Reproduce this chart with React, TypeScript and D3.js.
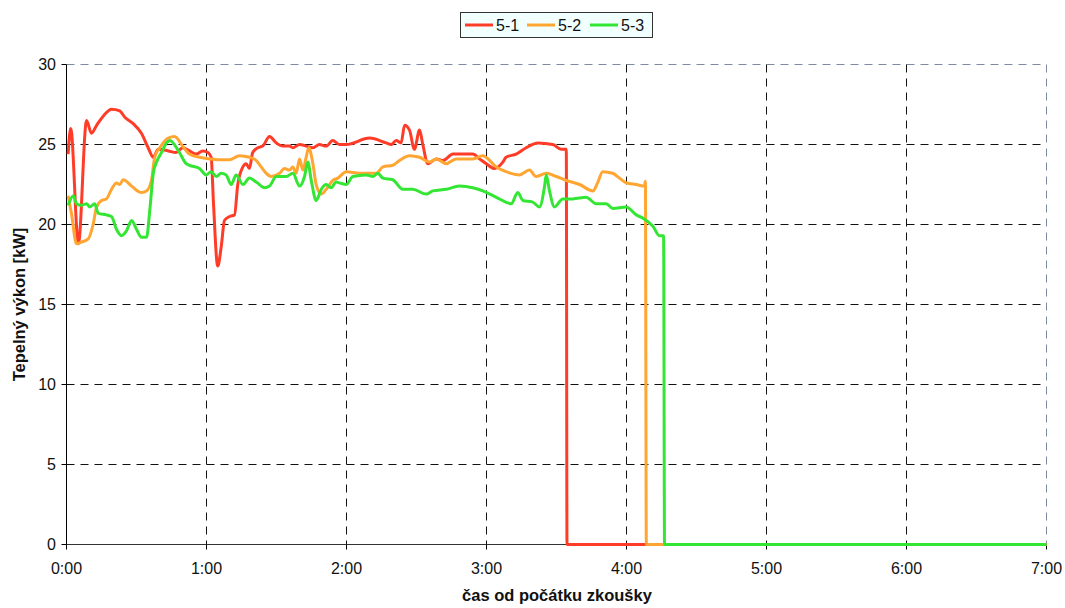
import React from "react";
import * as d3 from "d3";

// time in minutes from start, power in kW
const series51: [number, number][] = [
  [0.7, 24.4], [1.8, 26.0], [5.1, 18.8], [8.6, 26.5], [10.7, 25.7], [12.9, 26.2], [17.9, 27.1],
  [19.3, 27.2], [22.8, 27.1], [25.0, 26.7], [28.6, 26.3], [32.1, 25.7], [35.0, 24.8], [37.2, 24.2],
  [39.3, 24.7], [43.6, 24.6], [47.0, 24.5], [49.8, 24.8], [52.7, 24.6], [55.6, 24.4], [58.4, 24.6],
  [60.6, 24.5], [62.0, 24.2], [63.0, 21.3], [64.8, 17.4], [66.3, 18.6], [67.7, 20.25], [69.9, 20.5],
  [72.0, 20.6], [73.4, 22.5], [75.6, 23.6], [77.0, 23.8], [78.4, 23.5], [79.8, 24.5], [82.0, 24.8],
  [84.1, 24.9], [87.0, 25.5], [89.9, 25.1], [92.7, 24.9], [95.6, 24.9], [97.0, 24.8], [99.9, 25.0],
  [102.7, 24.9], [105.6, 24.8], [108.4, 25.0], [111.3, 24.9], [114.1, 25.25], [117.0, 25.0],
  [119.9, 25.0], [129.9, 25.4], [137.0, 25.1], [139.2, 25.0], [141.3, 25.25], [143.4, 25.1],
  [144.9, 26.2], [147.0, 25.9], [149.1, 24.7], [151.3, 25.9], [152.7, 25.0], [154.8, 23.8],
  [158.4, 24.1], [161.3, 24.0], [165.6, 24.4], [174.1, 24.4], [177.0, 24.1], [179.9, 23.8],
  [183.4, 23.5], [187.0, 23.9], [188.4, 24.2], [192.7, 24.4], [197.0, 24.8], [202.0, 25.1],
  [208.4, 25.0], [212.0, 24.7], [214.2, 24.7], [214.5, 0], [420, 0],
];

const series52: [number, number][] = [
  [0.7, 21.8], [2.1, 20.7], [4.3, 18.8], [6.4, 18.9], [9.3, 19.1], [11.4, 20.0], [12.9, 21.1],
  [15.0, 21.5], [17.1, 21.6], [19.3, 22.2], [21.4, 22.6], [22.8, 22.5], [24.3, 22.8], [27.9, 22.4],
  [32.1, 22.0], [34.3, 22.1], [36.4, 22.75], [37.8, 24.2], [40.0, 24.8], [43.6, 25.4], [46.3, 25.5],
  [49.8, 24.9], [52.7, 24.4], [57.0, 24.2], [61.3, 24.1], [65.6, 24.05], [69.9, 24.05], [74.1, 24.3],
  [78.4, 24.2], [81.3, 24.0], [83.4, 23.6], [85.6, 23.2], [87.7, 23.0], [91.3, 23.2], [93.4, 23.5],
  [95.6, 23.4], [97.0, 23.6], [98.4, 23.2], [99.9, 24.1], [101.3, 23.4], [102.7, 24.2], [103.8, 24.8],
  [105.6, 23.8], [107.0, 22.5], [109.2, 21.9], [111.3, 22.2], [114.1, 22.75], [116.3, 22.9],
  [119.9, 23.3], [125.6, 23.2], [132.7, 23.2], [135.6, 23.6], [139.8, 23.7], [142.7, 24.0],
  [147.0, 24.3], [151.3, 24.2], [155.6, 23.9], [158.4, 24.1], [162.7, 23.8], [167.0, 24.1],
  [174.1, 24.1], [178.4, 24.3], [184.2, 23.6], [188.4, 23.3], [194.1, 23.1], [198.4, 23.4],
  [201.3, 23.0], [205.6, 23.2], [209.9, 23.0], [214.2, 22.75], [219.9, 22.5], [225.6, 22.1],
  [227.6, 22.6], [229.8, 23.3], [234.1, 23.2], [237.0, 22.9], [239.9, 22.6], [244.2, 22.5],
  [247.7, 22.4], [248.1, 22.7], [248.5, 0], [420, 0],
];

const series53: [number, number][] = [
  [0.7, 21.2], [2.9, 21.8], [4.3, 21.3], [6.4, 21.2], [8.6, 21.3], [10.0, 21.1], [12.1, 21.3],
  [13.6, 20.7], [17.1, 20.6], [19.3, 20.5], [21.4, 19.7], [23.6, 19.3], [25.7, 19.6], [27.9, 20.25],
  [30.0, 19.7], [32.1, 19.2], [34.3, 19.2], [35.7, 20.9], [37.2, 23.2], [38.6, 23.9], [40.7, 24.5],
  [42.9, 25.1], [44.3, 25.25], [48.4, 24.5], [51.3, 23.8], [52.7, 23.7], [57.0, 23.5], [59.9, 23.1],
  [62.0, 23.3], [64.2, 23.0], [66.3, 23.2], [68.4, 23.1], [70.6, 22.5], [72.7, 23.1], [75.6, 22.5],
  [78.4, 22.9], [81.3, 22.65], [84.9, 22.3], [87.0, 22.4], [89.9, 23.0], [94.2, 23.0], [97.0, 23.2],
  [99.9, 22.4], [102.0, 23.0], [103.4, 23.9], [104.9, 22.75], [107.0, 21.5], [109.2, 22.2],
  [111.3, 22.5], [113.4, 22.3], [115.6, 22.65], [117.0, 22.6], [119.9, 22.5], [122.7, 23.0],
  [128.4, 23.1], [131.3, 23.0], [133.4, 23.2], [135.6, 22.9], [139.8, 22.8], [144.1, 22.2],
  [148.4, 22.2], [154.2, 21.9], [157.0, 22.1], [162.7, 22.2], [168.4, 22.4], [174.1, 22.3],
  [178.4, 22.1], [184.2, 21.7], [190.6, 21.3], [193.4, 22.0], [195.6, 21.5], [199.8, 21.4],
  [202.7, 21.1], [204.9, 22.4], [205.6, 23.1], [207.0, 22.1], [209.1, 21.1], [212.7, 21.6],
  [217.0, 21.6], [222.7, 21.7], [227.0, 21.3], [231.3, 21.3], [234.1, 21.0], [239.9, 21.1],
  [244.2, 20.6], [247.0, 20.4], [251.3, 19.9], [254.1, 19.3], [255.9, 19.3], [256.3, 0], [420, 0],
];

const seriesNames = ["5-1", "5-2", "5-3"];
const seriesColors = ["#ff3c28", "#ffa632", "#34e634"];
const yTicks = [0, 5, 10, 15, 20, 25, 30];
const xTicks = [0, 60, 120, 180, 240, 300, 360, 420];
const xTickLabels = ["0:00", "1:00", "2:00", "3:00", "4:00", "5:00", "6:00", "7:00"];

const W = 1065;
const H = 608;
const M = { left: 66.5, right: 1046.5, top: 64.5, bottom: 544.5 };
const FONT = "Arial, 'Liberation Sans', Helvetica, sans-serif";

export default function App() {
  const x = d3.scaleLinear().domain([0, 420]).range([M.left, M.right]);
  const y = d3.scaleLinear().domain([0, 30]).range([M.bottom, M.top]);
  const line = d3
    .line<[number, number]>()
    .x((d) => x(d[0]))
    .y((d) => y(d[1]))
    .curve(d3.curveMonotoneX);
  const allSeries = [series51, series52, series53];

  const legendX = [465, 527, 590];

  return (
    <svg
      width={W}
      height={H}
      style={{ position: "absolute", left: 0, top: 0, background: "#fff" }}
      fontFamily={FONT}
    >
      <rect x={0} y={0} width={W} height={H} fill="#fff" />
      {/* horizontal gridlines */}
      {yTicks.filter((t) => t > 0).map((t) => (
        <line
          key={"gy" + t}
          x1={M.left}
          x2={M.right}
          y1={y(t)}
          y2={y(t)}
          stroke={t === 30 ? "#7d8aa0" : "#111"}
          strokeWidth={1}
          strokeDasharray="8,6"
        />
      ))}
      {/* vertical gridlines */}
      {xTicks.filter((t) => t > 0).map((t) => (
        <line
          key={"gx" + t}
          x1={x(t)}
          x2={x(t)}
          y1={M.top}
          y2={M.bottom}
          stroke={t === 420 ? "#7d8aa0" : "#111"}
          strokeWidth={1}
          strokeDasharray="8,6"
        />
      ))}
      {/* axes */}
      <line x1={M.left} x2={M.left} y1={M.top} y2={M.bottom} stroke="#000" strokeWidth={1} />
      <line x1={M.left} x2={M.right} y1={M.bottom} y2={M.bottom} stroke="#333" strokeWidth={1} />
      {yTicks.map((t) => (
        <g key={"yt" + t}>
          <line x1={M.left - 5} x2={M.left} y1={y(t)} y2={y(t)} stroke="#000" />
          <text
            x={56}
            y={y(t)}
            textAnchor="end"
            dominantBaseline="central"
            fontSize={16}
            fill="#111"
          >
            {t}
          </text>
        </g>
      ))}
      {xTicks.map((t, i) => (
        <g key={"xt" + t}>
          <line x1={x(t)} x2={x(t)} y1={M.bottom} y2={M.bottom + 5} stroke="#000" />
          <text x={x(t)} y={574} textAnchor="middle" fontSize={16} fill="#111">
            {xTickLabels[i]}
          </text>
        </g>
      ))}
      {/* series */}
      {allSeries.map((s, i) => (
        <path
          key={"s" + i}
          d={line(s) || ""}
          fill="none"
          stroke={seriesColors[i]}
          strokeWidth={3}
          strokeLinejoin="round"
        />
      ))}
      {/* axis titles */}
      <text x={557} y={601} textAnchor="middle" fontSize={16.5} fontWeight="bold" fill="#111">
        čas od počátku zkoušky
      </text>
      <text
        transform={`translate(25,${(M.top + M.bottom) / 2}) rotate(-90)`}
        textAnchor="middle"
        fontSize={16.5}
        fontWeight="bold"
        fill="#111"
      >
        Tepelný výkon [kW]
      </text>
      {/* legend */}
      <rect x={460.5} y={12.5} width={192} height={25} fill="#f2ffff" stroke="#333" strokeWidth={1} />
      {seriesNames.map((n, i) => (
        <g key={"lg" + i}>
          <line
            x1={legendX[i]}
            x2={legendX[i] + 28}
            y1={25}
            y2={25}
            stroke={seriesColors[i]}
            strokeWidth={3}
          />
          <text x={legendX[i] + 31} y={25} dominantBaseline="central" fontSize={16} fill="#111">
            {n}
          </text>
        </g>
      ))}
    </svg>
  );
}
